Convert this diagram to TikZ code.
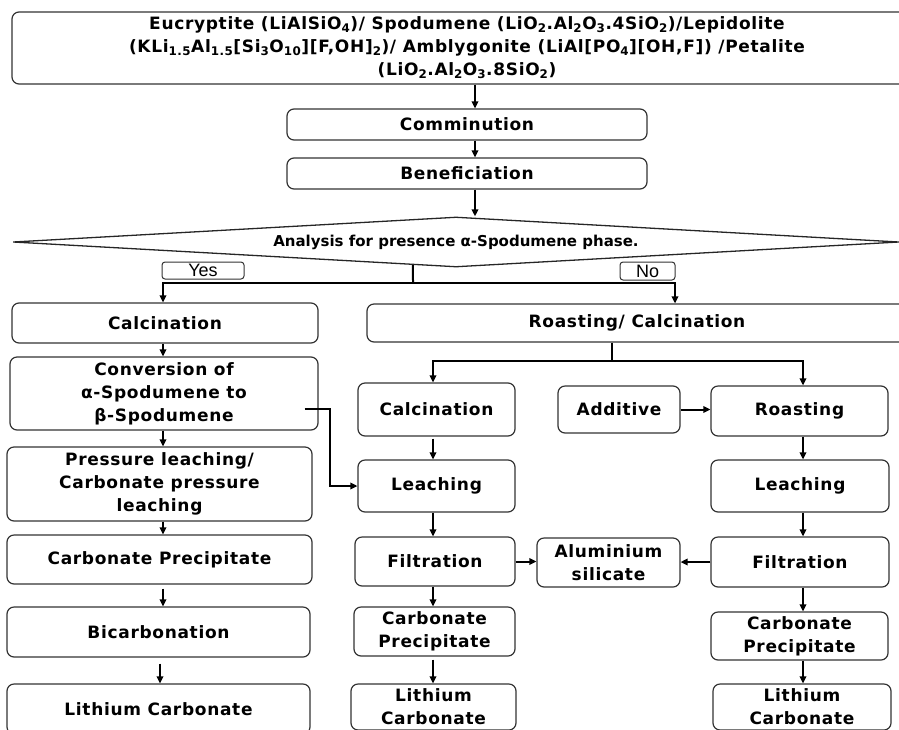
\documentclass[tikz,border=0pt]{standalone}
\usepackage{fontspec}
\usetikzlibrary{shapes.geometric,arrows.meta,calc}
\newfontfamily\boxfont{DejaVu Sans}[LetterSpace=4]
\newfontfamily\diafont{DejaVu Sans}
\newfontfamily\tagfont{Liberation Sans}

\tikzset{
  box/.style={draw=black!80, line width=1.2pt, rounded corners=7pt, align=center, inner sep=0pt,
    font={\boxfont\bfseries\fontsize{17}{23}\selectfont}},
  tag/.style={draw=black!80, line width=1pt, rounded corners=3pt, inner sep=0pt,
    font={\tagfont\fontsize{18}{18}\selectfont}},
  arr/.style={line width=2pt, -{Triangle[length=7pt,width=6.5pt]}},
  wire/.style={line width=2pt}
}

\begin{document}
\begin{tikzpicture}[x=1pt,y=-1pt]
\useasboundingbox (0,0) rectangle (899,729);
\clip (0,0) rectangle (899,729);
% columns of the arrows
\coordinate (xt) at (475,0);
\coordinate (xl) at (163,0);
\coordinate (xb) at (160,0);
\coordinate (xm) at (433,0);
\coordinate (xr) at (803,0);
\coordinate (xn) at (675,0);

% ore and preparation
\node[box, minimum width=910pt, minimum height=72pt] (ore) at (467,48)
  {Eucryptite (LiAlSiO\textsubscript{4})/ Spodumene (LiO\textsubscript{2}.Al\textsubscript{2}O\textsubscript{3}.4SiO\textsubscript{2})/Lepidolite\\
   (KLi\textsubscript{1.5}Al\textsubscript{1.5}[Si\textsubscript{3}O\textsubscript{10}][F,OH]\textsubscript{2})/ Amblygonite (LiAl[PO\textsubscript{4}][OH,F]) /Petalite\\
   (LiO\textsubscript{2}.Al\textsubscript{2}O\textsubscript{3}.8SiO\textsubscript{2})};
\node[box, minimum width=360pt, minimum height=31pt] (comm) at (467,124.5) {Comminution};
\node[box, minimum width=360pt, minimum height=31pt] (benef) at (467,173.5) {Beneficiation};
\node[draw=black!85, line width=1.3pt, shape=diamond, aspect=17.7, inner sep=0pt,
  minimum width=886pt, minimum height=50pt,
  font={\diafont\bfseries\fontsize{15}{16}\selectfont}] (ana) at (456,242)
  {Analysis for presence α-Spodumene phase.};
\node[tag, minimum width=82pt, minimum height=17pt] (yes) at (203,270.5) {Yes};
\node[tag, minimum width=55pt, minimum height=18pt] (no) at (647.5,271) {No};

% left branch
\node[box, minimum width=306pt, minimum height=40pt] (calcL) at (165,323) {Calcination};
\node[box, minimum width=308pt, minimum height=73pt] (conv) at (164,393.5)
  {Conversion of\\ α-Spodumene to\\ β-Spodumene};
\node[box, minimum width=305pt, minimum height=74pt] (press) at (159.5,484)
  {Pressure leaching/\\ Carbonate pressure\\ leaching};
\node[box, minimum width=305pt, minimum height=49pt] (carbL) at (159.5,559.5) {Carbonate Precipitate};
\node[box, minimum width=303pt, minimum height=50pt] (bicarb) at (158.5,632) {Bicarbonation};
\node[box, minimum width=303pt, minimum height=50pt] (lithL) at (158.5,709) {Lithium Carbonate};

% right branch
\node[box, minimum width=540pt, minimum height=38pt] (roastC) at (637,323) {Roasting/ Calcination};
\node[box, minimum width=157pt, minimum height=53pt] (calcM) at (436.5,409.5) {Calcination};
\node[box, minimum width=157pt, minimum height=52pt] (leachM) at (436.5,486) {Leaching};
\node[box, minimum width=160pt, minimum height=49pt] (filtM) at (435,561.5) {Filtration};
\node[box, minimum width=161pt, minimum height=49pt] (carbM) at (434.5,631.5) {Carbonate\\ Precipitate};
\node[box, minimum width=165pt, minimum height=46pt] (lithM) at (433.5,707) {Lithium\\ Carbonate};
\node[box, minimum width=122pt, minimum height=47pt] (additive) at (619,409.5) {Additive};
\node[box, minimum width=177pt, minimum height=50pt] (roastR) at (799.5,411) {Roasting};
\node[box, minimum width=178pt, minimum height=52pt] (leachR) at (800,486) {Leaching};
\node[box, minimum width=178pt, minimum height=50pt] (filtR) at (800,562) {Filtration};
\node[box, minimum width=143pt, minimum height=49pt] (alum) at (608.5,562.5) {Aluminium\\ silicate};
\node[box, minimum width=177pt, minimum height=48pt] (carbR) at (799.5,636) {Carbonate\\ Precipitate};
\node[box, minimum width=178pt, minimum height=46pt] (lithR) at (802,707) {Lithium\\ Carbonate};

% connectors
\draw[arr] (ore.south -| xt) -- (comm.north -| xt);
\draw[arr] (comm.south -| xt) -- (benef.north -| xt);
\draw[arr] (benef.south -| xt) -- (ana.north -| xt);
\coordinate (br) at ($(ana.south)!0.097!(ana.west)$);
\coordinate (jn) at (413,283);
\draw[wire] (br) -- (jn);
\draw[arr] (jn) -| (calcL.north -| xl);
\draw[arr] (jn) -| (roastC.north -| xn);

\draw[arr] (calcL.south -| xl) -- (conv.north -| xl);
\draw[arr] (conv.south -| xl) -- (press.north -| xl);
\draw[arr] (press.south -| xl) -- (carbL.north -| xl);
\draw[arr, shorten <=4pt] (carbL.south -| xl) -- (bicarb.north -| xl);
\draw[arr, shorten <=6pt] (bicarb.south -| xb) -- (lithL.north -| xb);

\coordinate (rj) at (612,361);
\draw[wire] (roastC.south -| rj) -- (rj);
\draw[arr] (rj) -| (calcM.north -| xm);
\draw[arr] (rj) -| (roastR.north -| xr);

\draw[arr, shorten <=2pt] (calcM.south -| xm) -- (leachM.north -| xm);
\draw[arr] (leachM.south -| xm) -- (filtM.north -| xm);
\draw[arr] (filtM.south -| xm) -- (carbM.north -| xm);
\draw[arr, shorten <=3pt] (carbM.south -| xm) -- (lithM.north -| xm);
\draw[arr] ($(conv.east)+(-14,15)$) -| ($(leachM.west)+(-27,0)$) -- (leachM.west);

\draw[arr] (additive.east) -- (additive.east -| roastR.west);
\draw[arr] (roastR.south -| xr) -- (leachR.north -| xr);
\draw[arr] (leachR.south -| xr) -- (filtR.north -| xr);
\draw[arr] (filtR.south -| xr) -- (carbR.north -| xr);
\draw[arr] (carbR.south -| xr) -- (lithR.north -| xr);
\draw[arr] (filtM.east) -- (filtM.east -| alum.west);
\draw[arr] (filtR.west) -- (filtR.west -| alum.east);
\end{tikzpicture}
\end{document}
